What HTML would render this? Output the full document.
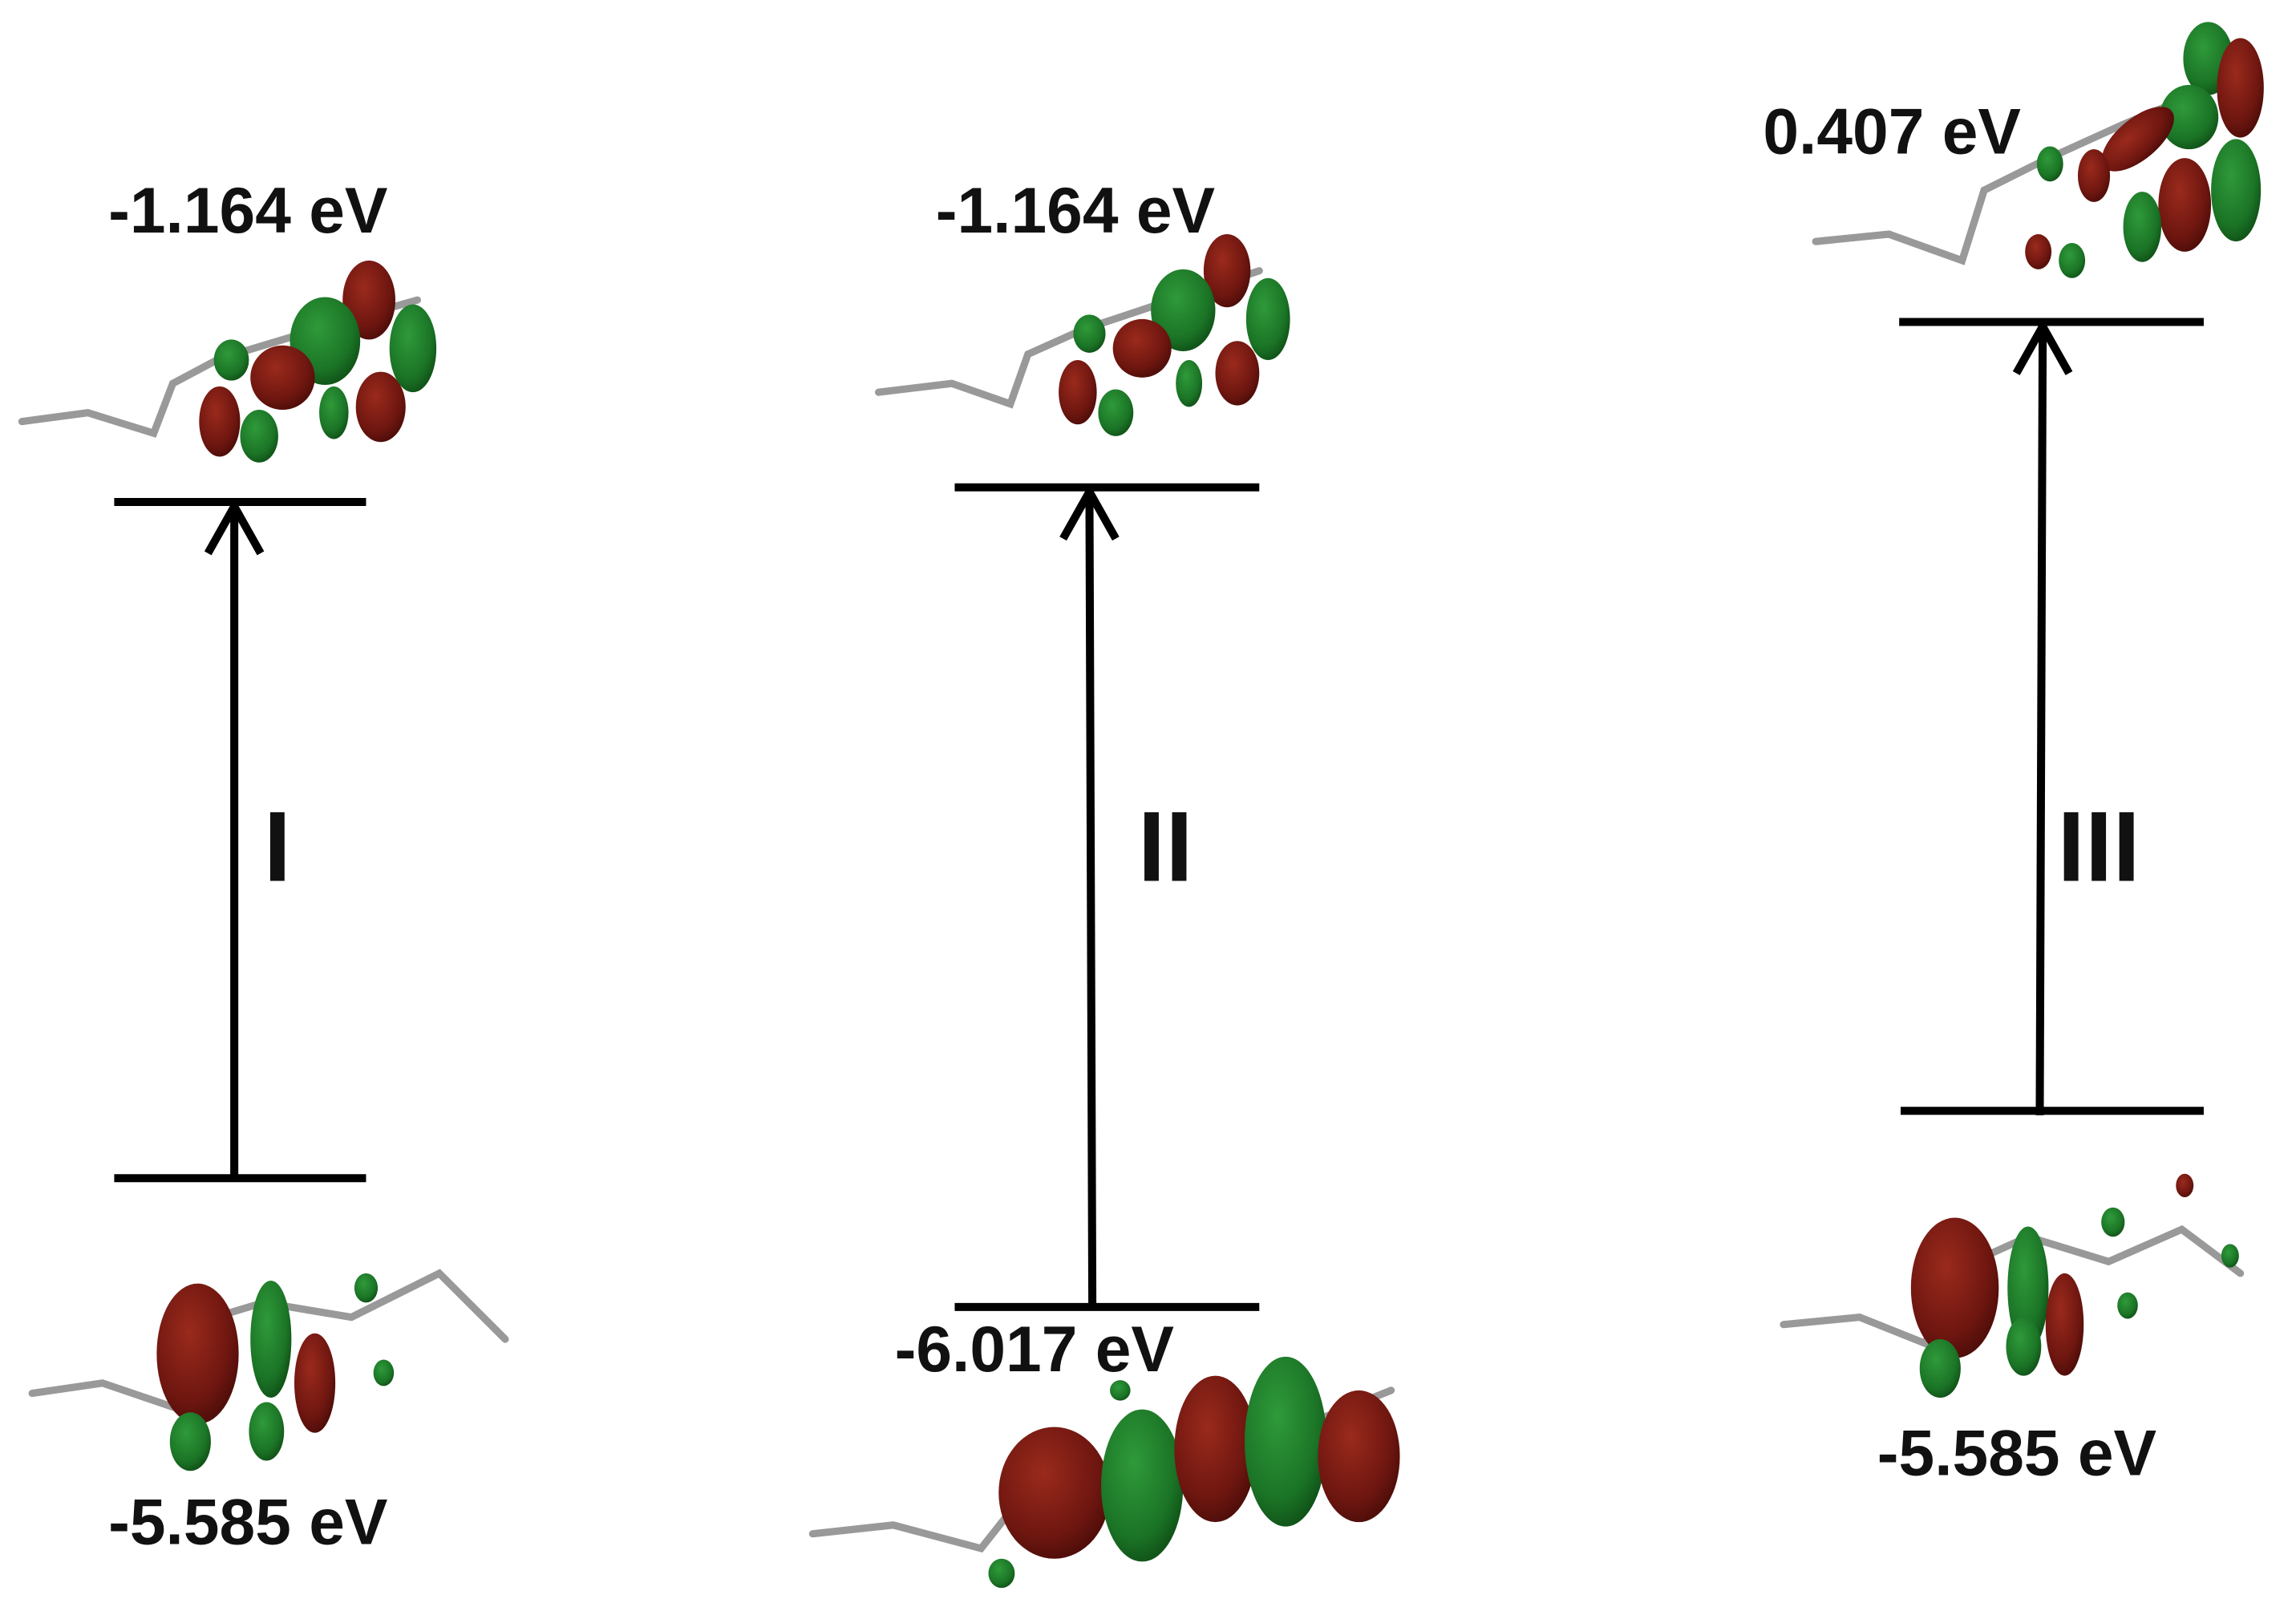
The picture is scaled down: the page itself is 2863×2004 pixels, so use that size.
<!DOCTYPE html>
<html><head><meta charset="utf-8">
<style>
html,body{margin:0;padding:0;background:#fff;}
svg{display:block;}
text{font-family:"Liberation Sans",Arial,sans-serif;font-weight:bold;fill:#111;}
</style></head>
<body>
<svg width="2863" height="2004" viewBox="0 0 1568 1098" preserveAspectRatio="none" xmlns="http://www.w3.org/2000/svg">
<defs>
<radialGradient id="r" cx="40%" cy="35%" r="70%"><stop offset="0" stop-color="#9a2a1c"/><stop offset="0.7" stop-color="#6e1610"/><stop offset="1" stop-color="#4a0c08"/></radialGradient>
<radialGradient id="g" cx="40%" cy="35%" r="70%"><stop offset="0" stop-color="#2f9a3a"/><stop offset="0.7" stop-color="#1b7426"/><stop offset="1" stop-color="#0f4e16"/></radialGradient>
</defs>
<g stroke="#000" stroke-width="5.5" fill="none">
<line x1="78" y1="343" x2="250" y2="343"/>
<line x1="78" y1="805" x2="250" y2="805"/>
<line x1="160" y1="805" x2="160" y2="348"/>
<polyline points="142,378 160,346 178,378"/>
<line x1="652" y1="333" x2="860" y2="333"/>
<line x1="652" y1="893" x2="860" y2="893"/>
<line x1="746" y1="893" x2="744" y2="338"/>
<polyline points="726,368 744,336 762,368"/>
<line x1="1297" y1="220" x2="1505" y2="220"/>
<line x1="1298" y1="759" x2="1505" y2="759"/>
<line x1="1393" y1="762" x2="1395" y2="225"/>
<polyline points="1377,255 1395,223 1413,255"/>
</g>
<g font-size="44">
<text x="74" y="159">-1.164 eV</text>
<text x="74" y="1055">-5.585 eV</text>
<text x="639" y="159">-1.164 eV</text>
<text x="611" y="937">-6.017 eV</text>
<text x="1204" y="105">0.407 eV</text>
<text x="1282" y="1008">-5.585 eV</text>
</g>
<g font-size="68">
<text x="180" y="602">I</text>
<text x="777" y="602">II</text>
<text x="1405" y="602">III</text>
</g>
<g stroke="#999" stroke-width="5" fill="none" stroke-linecap="round">
<path d="M15,288 L60,282 L105,296 L118,262 L150,245 L200,230 L250,215 L285,205"/>
<path d="M600,268 L650,262 L690,276 L702,242 L740,225 L800,205 L860,185"/>
<path d="M1240,165 L1290,160 L1340,178 L1355,130 L1395,110 L1450,85 L1510,60"/>
<path d="M22,952 L70,945 L120,962 L130,905 L180,890 L240,900 L300,870 L345,915"/>
<path d="M555,1048 L610,1042 L670,1058 L700,1020 L760,1000 L830,990 L900,970 L950,950"/>
<path d="M1218,905 L1270,900 L1315,918 L1330,870 L1385,845 L1440,862 L1490,840 L1530,870"/>
</g>
<g>
<ellipse cx="252" cy="205" rx="18" ry="27" fill="url(#r)"/>
<ellipse cx="222" cy="233" rx="24" ry="30" fill="url(#g)"/>
<ellipse cx="193" cy="258" rx="22" ry="22" fill="url(#r)"/>
<ellipse cx="158" cy="246" rx="12" ry="14" fill="url(#g)"/>
<ellipse cx="150" cy="288" rx="14" ry="24" fill="url(#r)"/>
<ellipse cx="177" cy="298" rx="13" ry="18" fill="url(#g)"/>
<ellipse cx="260" cy="278" rx="17" ry="24" fill="url(#r)"/>
<ellipse cx="282" cy="238" rx="16" ry="30" fill="url(#g)"/>
<ellipse cx="228" cy="282" rx="10" ry="18" fill="url(#g)"/>
</g>
<g>
<ellipse cx="838" cy="185" rx="16" ry="25" fill="url(#r)"/>
<ellipse cx="808" cy="212" rx="22" ry="28" fill="url(#g)"/>
<ellipse cx="780" cy="238" rx="20" ry="20" fill="url(#r)"/>
<ellipse cx="744" cy="228" rx="11" ry="13" fill="url(#g)"/>
<ellipse cx="736" cy="268" rx="13" ry="22" fill="url(#r)"/>
<ellipse cx="762" cy="282" rx="12" ry="16" fill="url(#g)"/>
<ellipse cx="845" cy="255" rx="15" ry="22" fill="url(#r)"/>
<ellipse cx="866" cy="218" rx="15" ry="28" fill="url(#g)"/>
<ellipse cx="812" cy="262" rx="9" ry="16" fill="url(#g)"/>
</g>
<g>
<ellipse cx="1508" cy="40" rx="17" ry="25" fill="url(#g)"/>
<ellipse cx="1530" cy="60" rx="16" ry="34" fill="url(#r)"/>
<ellipse cx="1495" cy="80" rx="20" ry="22" fill="url(#g)"/>
<ellipse cx="1460" cy="95" rx="30" ry="14" fill="url(#r)" transform="rotate(-40 1460 95)"/>
<ellipse cx="1492" cy="140" rx="18" ry="32" fill="url(#r)"/>
<ellipse cx="1527" cy="130" rx="17" ry="35" fill="url(#g)"/>
<ellipse cx="1463" cy="155" rx="13" ry="24" fill="url(#g)"/>
<ellipse cx="1430" cy="120" rx="11" ry="18" fill="url(#r)"/>
<ellipse cx="1400" cy="112" rx="9" ry="12" fill="url(#g)"/>
<ellipse cx="1392" cy="172" rx="9" ry="12" fill="url(#r)"/>
<ellipse cx="1415" cy="178" rx="9" ry="12" fill="url(#g)"/>
</g>
<g>
<ellipse cx="135" cy="925" rx="28" ry="48" fill="url(#r)"/>
<ellipse cx="130" cy="985" rx="14" ry="20" fill="url(#g)"/>
<ellipse cx="185" cy="915" rx="14" ry="40" fill="url(#g)"/>
<ellipse cx="182" cy="978" rx="12" ry="20" fill="url(#g)"/>
<ellipse cx="215" cy="945" rx="14" ry="34" fill="url(#r)"/>
<ellipse cx="250" cy="880" rx="8" ry="10" fill="url(#g)"/>
<ellipse cx="262" cy="938" rx="7" ry="9" fill="url(#g)"/>
</g>
<g>
<ellipse cx="720" cy="1020" rx="38" ry="45" fill="url(#r)"/>
<ellipse cx="780" cy="1015" rx="28" ry="52" fill="url(#g)"/>
<ellipse cx="830" cy="990" rx="28" ry="50" fill="url(#r)"/>
<ellipse cx="878" cy="985" rx="28" ry="58" fill="url(#g)"/>
<ellipse cx="928" cy="995" rx="28" ry="45" fill="url(#r)"/>
<ellipse cx="684" cy="1075" rx="9" ry="10" fill="url(#g)"/>
<ellipse cx="765" cy="950" rx="7" ry="7" fill="url(#g)"/>
</g>
<g>
<ellipse cx="1335" cy="880" rx="30" ry="48" fill="url(#r)"/>
<ellipse cx="1325" cy="935" rx="14" ry="20" fill="url(#g)"/>
<ellipse cx="1385" cy="880" rx="14" ry="42" fill="url(#g)"/>
<ellipse cx="1382" cy="920" rx="12" ry="20" fill="url(#g)"/>
<ellipse cx="1410" cy="905" rx="13" ry="35" fill="url(#r)"/>
<ellipse cx="1443" cy="835" rx="8" ry="10" fill="url(#g)"/>
<ellipse cx="1453" cy="892" rx="7" ry="9" fill="url(#g)"/>
<ellipse cx="1492" cy="810" rx="6" ry="8" fill="url(#r)"/>
<ellipse cx="1523" cy="858" rx="6" ry="8" fill="url(#g)"/>
</g>
</svg>
</body></html>
